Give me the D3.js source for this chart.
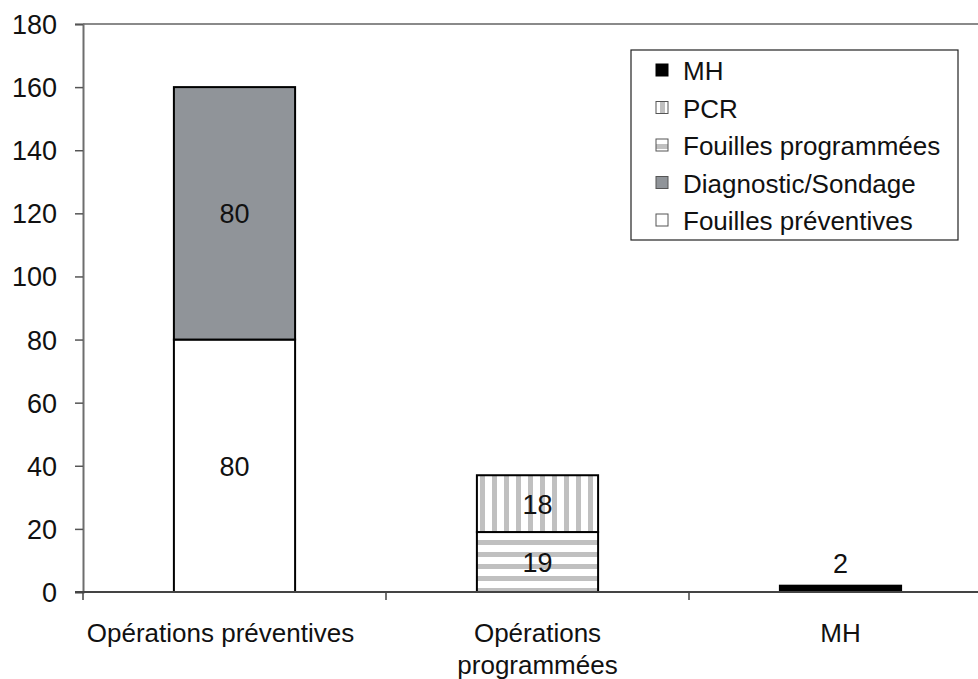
<!DOCTYPE html>
<html><head><meta charset="utf-8">
<script src="https://cdn.jsdelivr.net/npm/d3@7"></script>
<style>body{margin:0;background:#fff}svg{display:block}text{font-family:"Liberation Sans",Arial,sans-serif;fill:#111}</style>
</head><body><svg id="c" width="978" height="679"></svg>
<script>
const categories = ["Opérations préventives", "Opérations\nprogrammées", "MH"];
const seriesNames = ["Fouilles préventives", "Diagnostic/Sondage", "Fouilles programmées", "PCR", "MH"];
const fouillesPreventives = [80, 0, 0];
const diagnosticSondage = [80, 0, 0];
const fouillesProgrammees = [0, 19, 0];
const pcr = [0, 18, 0];
const mh = [0, 0, 2];
const yTicks = [0, 20, 40, 60, 80, 100, 120, 140, 160, 180];
const legendOrder = ["MH", "PCR", "Fouilles programmées", "Diagnostic/Sondage", "Fouilles préventives"];

(function(){
const seriesValues = [fouillesPreventives, diagnosticSondage, fouillesProgrammees, pcr, mh];
const fills = {"Fouilles préventives":"#ffffff","Diagnostic/Sondage":"#909499","Fouilles programmées":"url(#hstripe)","PCR":"url(#vstripe)","MH":"#000000"};
const labelShift = [-14, 0, 0];

const svg = d3.select("#c");
const defs = svg.append("defs");
const hp = defs.append("pattern").attr("id","hstripe").attr("patternUnits","userSpaceOnUse").attr("width",12).attr("height",12);
hp.append("rect").attr("width",12).attr("height",12).attr("fill","#fff");
hp.append("rect").attr("y",0).attr("width",12).attr("height",5).attr("fill","#c0c0c0");
const vp = defs.append("pattern").attr("id","vstripe").attr("patternUnits","userSpaceOnUse").attr("width",12).attr("height",12);
vp.append("rect").attr("width",12).attr("height",12).attr("fill","#fff");
vp.append("rect").attr("x",0).attr("width",5).attr("height",12).attr("fill","#c0c0c0");

const mLeft = 83, mRight = 992, mTop = 24, mBottom = 592;
const x = d3.scaleBand().domain(categories).range([mLeft, mRight]).paddingInner(0.6).paddingOuter(0.3);
const y = d3.scaleLinear().domain([0, 180]).range([mBottom, mTop]);

const rows = categories.map((c, i) => { const o = {cat: c}; seriesNames.forEach((s, j) => o[s] = seriesValues[j][i]); return o; });
const stack = d3.stack().keys(seriesNames)(rows);

svg.append("line").attr("x1", mLeft).attr("x2", mRight).attr("y1", mTop).attr("y2", mTop).attr("stroke", "#8a8a8a").attr("stroke-width", 2);

stack.forEach(layer => {
  svg.append("g").selectAll("rect").data(layer.filter(d => d[1] - d[0] > 0)).join("rect")
    .attr("x", d => x(d.data.cat)).attr("width", x.bandwidth())
    .attr("y", d => y(d[1])).attr("height", d => y(d[0]) - y(d[1]))
    .attr("fill", fills[layer.key]).attr("stroke", "#000").attr("stroke-width", 2);
});

stack.forEach(layer => {
  layer.filter(d => d[1] - d[0] > 0).forEach(d => {
    const v = d[1] - d[0];
    const cx = x(d.data.cat) + x.bandwidth() / 2;
    const small = (y(d[0]) - y(d[1])) < 30;
    svg.append("text").attr("x", cx)
      .attr("y", small ? y(d[1]) - 22 : (y(d[0]) + y(d[1])) / 2 + 1)
      .attr("text-anchor", "middle").attr("dominant-baseline", "central")
      .attr("font-size", 27).text(v);
  });
});

const ya = svg.append("g").attr("transform", `translate(${mLeft},0)`)
  .call(d3.axisLeft(y).tickValues(yTicks).tickSize(8).tickPadding(18));
ya.select(".domain").attr("stroke", "#6e6e6e").attr("stroke-width", 2);
ya.selectAll(".tick line").attr("stroke", "#555").attr("stroke-width", 1.5);
ya.selectAll(".tick text").attr("font-size", 27).attr("fill", "#111").attr("dy", "0.35em").style("font-family", '"Liberation Sans",Arial,sans-serif');

const xa = svg.append("g").attr("transform", `translate(0,${mBottom})`);
xa.append("line").attr("x1", mLeft - 8).attr("x2", mRight).attr("y1", 0).attr("y2", 0).attr("stroke", "#444").attr("stroke-width", 2);
const step = (mRight - mLeft) / categories.length;
d3.range(categories.length + 1).forEach(i => {
  xa.append("line").attr("x1", mLeft + i * step).attr("x2", mLeft + i * step).attr("y1", 0).attr("y2", 8).attr("stroke", "#444").attr("stroke-width", 1.5);
});
categories.forEach((c, i) => {
  const lines = c.split("\n");
  const cx = x(c) + x.bandwidth() / 2 + labelShift[i];
  const t = xa.append("text").attr("x", cx).attr("y", 50).attr("text-anchor", "middle").attr("font-size", 26);
  lines.forEach((l, k) => t.append("tspan").attr("x", cx).attr("dy", k === 0 ? 0 : 32).text(l));
});

const lg = svg.append("g");
lg.append("rect").attr("x", 631).attr("y", 50).attr("width", 327).attr("height", 190).attr("fill", "#fff").attr("stroke", "#222").attr("stroke-width", 1.2);
legendOrder.forEach((s, i) => {
  const cy = 70 + i * 37.5;
  lg.append("rect").attr("x", 656).attr("y", cy - 6).attr("width", 12).attr("height", 12).attr("fill", fills[s]).attr("stroke", s === "MH" ? "#000" : "#555").attr("stroke-width", 1);
  lg.append("text").attr("x", 683).attr("y", cy + 1).attr("dominant-baseline", "central").attr("font-size", 26).text(s);
});
})();
</script></body></html>
